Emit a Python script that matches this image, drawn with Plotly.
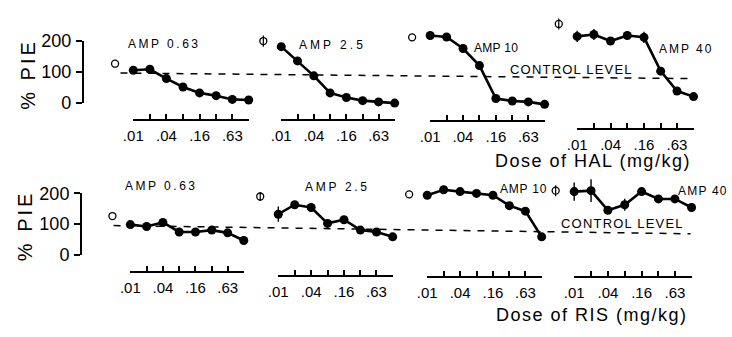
import math
import plotly.graph_objects as go

W, H = 732, 337

# ---------------- data ----------------
doses = [0.01, 0.02, 0.04, 0.08, 0.16, 0.32, 0.63, 1.25]
tick_text = [".01", "", ".04", "", ".16", "", ".63", ""]
amp_labels = ["AMP 0.63", "AMP 2.5", "AMP 10", "AMP 40"]
y_ticks = [0, 100, 200]

# Haloperidol (top row), % PIE
hal_amp063 = [106, 109, 79, 52, 33, 24, 12, 10]
hal_amp25 = [182, 136, 88, 33, 18, 8, 4, 0]
hal_amp10 = [218, 213, 176, 121, 15, 7, 4, -4]
hal_amp40 = [215, 221, 200, 218, 212, 103, 39, 21]
hal_err063 = [0, 0, 0, 0, 0, 0, 0, 0]
hal_err25 = [0, 0, 0, 0, 0, 0, 0, 0]
hal_err10 = [6, 6, 8, 8, 0, 0, 0, 0]
hal_err40 = [18, 18, 8, 12, 18, 12, 8, 8]
hal_ctrl = [127, 200, 212, 255]
hal_ctrl_err = [0, 18, 0, 18]
hal_control_level = [97, 79]   # dashed line, left and right ends (as scanned)

# Risperidone (bottom row), % PIE
ris_amp063 = [98, 92, 105, 74, 74, 80, 71, 46]
ris_amp25 = [132, 163, 154, 102, 114, 80, 74, 58]
ris_amp10 = [194, 212, 206, 200, 194, 160, 142, 58]
ris_amp40 = [206, 209, 145, 163, 206, 182, 182, 154]
ris_err063 = [0, 0, 0, 0, 0, 0, 0, 10]
ris_err25 = [25, 0, 15, 8, 8, 0, 0, 0]
ris_err10 = [0, 12, 10, 10, 10, 8, 8, 0]
ris_err40 = [30, 37, 10, 20, 8, 8, 8, 15]
ris_ctrl = [126, 190, 197, 209]
ris_ctrl_err = [0, 15, 0, 18]
ris_control_level = [95, 68]

CONTROL_DOSE_POS = 0.01 / 2 ** 1.1  # position of the vehicle (control) point

rows = [
    dict(series=[hal_amp063, hal_amp25, hal_amp10, hal_amp40],
         errs=[hal_err063, hal_err25, hal_err10, hal_err40],
         ctrl=hal_ctrl, ctrl_err=hal_ctrl_err, level=hal_control_level,
         xlabel="Dose of HAL (mg/kg)"),
    dict(series=[ris_amp063, ris_amp25, ris_amp10, ris_amp40],
         errs=[ris_err063, ris_err25, ris_err10, ris_err40],
         ctrl=ris_ctrl, ctrl_err=ris_ctrl_err, level=ris_control_level,
         xlabel="Dose of RIS (mg/kg)"),
]

# ---------------- layout geometry (pixels) ----------------
geo = [
    dict(zero=99, ppu=0.33, yaxis_x=74,
         panels=[(125, 242, 117), (275, 390, 117), (426, 542, 118), (575, 693, 126)],
         amp_pos=[(156, 36), (327, 37), (493, 40), (685, 41)],
         amp_spacing=[2.5, 3.0, 0.3, 2.0],
         level_x=(112, 690), level_txt=(569, 63),
         xlabel_pos=(591, 161), ylabel_pos=(18, 68)),
    dict(zero=260, ppu=0.325, yaxis_x=72,
         panels=[(122, 237, 279), (272, 388, 283), (423, 539, 284), (572, 691, 284)],
         amp_pos=[(153, 187), (332, 188), (521, 190), (703, 192)],
         amp_spacing=[2.5, 2.7, 0.8, 1.2],
         level_x=(105, 690), level_txt=(621, 227),
         xlabel_pos=(590, 324), ylabel_pos=(16, 229)),
]

FONT = "Liberation Sans, Arial, Helvetica, sans-serif"
px = lambda v: v / W
py = lambda v: 1 - v / H
spaced = lambda t, sp: f'<span style="letter-spacing:{sp}px">{t}</span>'

Y_RANGE = [-60, 300]
LOG_LO, LOG_HI = math.log10(doses[0]), math.log10(doses[-1])
X_RANGE = [LOG_LO - 0.45, LOG_HI + 0.15]

fig = go.Figure()
layout = dict(width=W, height=H, margin=dict(l=0, r=0, t=0, b=0),
              paper_bgcolor="white", plot_bgcolor="rgba(0,0,0,0)", showlegend=False,
              annotations=[], shapes=[])

for r, (row, g) in enumerate(zip(rows, geo)):
    ydata = f"y{r + 1}"
    ytick = f"y{r + 3}"
    z, s = g["zero"], g["ppu"]
    layout[f"yaxis{r + 1}"] = dict(visible=False, range=Y_RANGE,
                                   domain=[py(z - Y_RANGE[0] * s), py(z - Y_RANGE[1] * s)])
    layout[f"yaxis{r + 3}"] = dict(range=[0, 200], domain=[py(z), py(z - 200 * s)],
                                   anchor="free", position=px(g["yaxis_x"]),
                                   showline=True, linecolor="black", linewidth=2,
                                   ticks="outside", ticklen=6, tickwidth=2, tickcolor="black",
                                   tickvals=y_ticks, showgrid=False, zeroline=False,
                                   tickfont=dict(family=FONT, size=18, color="black"),
                                   ticklabelstandoff=1)
    for c in range(4):
        i = r * 4 + c
        x0p, x1p, ay = g["panels"][c]
        k = (x1p - x0p) / (LOG_HI - LOG_LO)
        dom = [px(x0p - k * (LOG_LO - X_RANGE[0])), px(x1p + k * (X_RANGE[1] - LOG_HI))]
        layout[f"xaxis{i + 1}"] = dict(visible=False, type="log", range=X_RANGE,
                                       domain=dom, anchor=ydata)
        layout[f"xaxis{i + 9}"] = dict(type="log", range=[LOG_LO, LOG_HI],
                                       domain=[px(x0p), px(x1p)], anchor="free",
                                       position=py(ay), showline=True, linecolor="black",
                                       linewidth=2, ticks="inside", ticklen=5, tickwidth=1.5,
                                       tickcolor="black", tickvals=doses, ticktext=tick_text,
                                       showgrid=False, zeroline=False,
                                       tickfont=dict(family=FONT, size=15, color="black"),
                                       ticklabelstandoff=2)
        xd = "x" if i == 0 else f"x{i + 1}"
        # dummy invisible trace so the tick axes are drawn
        fig.add_trace(go.Scatter(x=doses, y=row["series"][c], xaxis=f"x{i + 9}", yaxis=ytick,
                                 mode="markers", marker=dict(opacity=0), hoverinfo="skip"))
        # series
        fig.add_trace(go.Scatter(
            x=doses, y=row["series"][c], xaxis=xd, yaxis=ydata, mode="lines+markers",
            line=dict(color="black", width=2.6),
            marker=dict(color="black", size=9),
            error_y=dict(type="data", array=row["errs"][c], visible=True,
                         color="black", thickness=1.4, width=0),
            cliponaxis=False, hoverinfo="skip"))
        # control (vehicle) point
        fig.add_trace(go.Scatter(
            x=[CONTROL_DOSE_POS], y=[row["ctrl"][c]], xaxis=xd, yaxis=ydata, mode="markers",
            marker=dict(symbol="circle-open", color="black", size=7, line=dict(width=1.3)),
            error_y=dict(type="data", array=[row["ctrl_err"][c]], visible=True,
                         color="black", thickness=1.2, width=0),
            cliponaxis=False, hoverinfo="skip"))
        ax, ayy = g["amp_pos"][c]
        layout["annotations"].append(dict(
            text=spaced(amp_labels[c], g["amp_spacing"][c]), x=px(ax), y=py(ayy),
            xref="paper", yref="paper",
            showarrow=False, xanchor="center", yanchor="middle",
            font=dict(family=FONT, size=12, color="black")))

    # control level dashed line
    lx0, lx1 = g["level_x"]
    layout["shapes"].append(dict(
        type="line", xref="paper", yref=ydata, x0=px(lx0), x1=px(lx1),
        y0=row["level"][0], y1=row["level"][1],
        line=dict(color="black", width=1.5, dash="7px,7px"), layer="below"))
    tx, ty = g["level_txt"]
    layout["annotations"].append(dict(
        text=spaced("CONTROL LEVEL", 1.2), x=px(tx), y=py(ty), xref="paper", yref="paper",
        showarrow=False, xanchor="center", yanchor="middle",
        font=dict(family=FONT, size=13, color="black")))
    lx, ly = g["xlabel_pos"]
    layout["annotations"].append(dict(
        text=spaced(row["xlabel"], 1.5), x=px(lx), y=py(ly), xref="paper", yref="paper",
        showarrow=False, xanchor="center", yanchor="middle",
        font=dict(family=FONT, size=18, color="black")))
    yx, yy = g["ylabel_pos"]
    layout["annotations"].append(dict(
        text=spaced("% PIE", 3), x=px(yx), y=py(yy), xref="paper", yref="paper", textangle=-90,
        showarrow=False, xanchor="center", yanchor="middle",
        font=dict(family=FONT, size=20, color="black")))

fig.update_layout(**layout)
fig.write_html("out.html")
